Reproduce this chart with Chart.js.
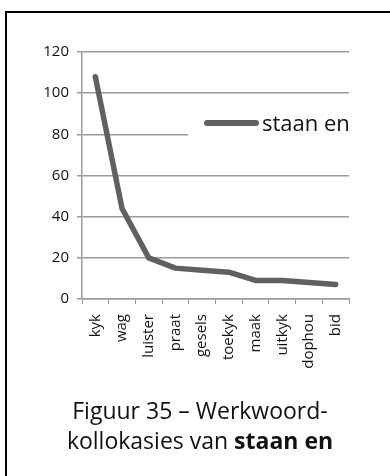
<!DOCTYPE html>
<html lang="af">
<head>
    <meta charset="UTF-8">
    <title>Figuur 35</title>
    <script src="https://cdn.jsdelivr.net/npm/chart.js"></script>
    <style>
        body {
            margin: 0;
            background: #fff;
            font-family: "Open Sans", sans-serif;
        }

        #wrap {
            position: relative;
            width: 390px;
            height: 476px;
            overflow: hidden;
        }

        #frame {
            position: absolute;
            left: 5px;
            top: 11px;
            width: 400px;
            height: 480px;
            border-left: 2px solid #000;
            border-top: 2px solid #000;
        }

        canvas {
            position: absolute;
            left: 0;
            top: 0;
        }

        #caption {
            position: absolute;
            left: 0;
            width: 400px;
            top: 395px;
            text-align: center;
            font-size: 23px;
            line-height: 30px;
            color: #111;
        }
    </style>
</head>
<body>
    <div id="wrap">
        <div id="frame"></div>
        <canvas id="chart" width="390" height="476"></canvas>
        <div id="caption">Figuur 35 – Werkwoord-<br>kollokasies van <b>staan en</b></div>
    </div>

    <script>
        // werkwoorde en frekwensies
        const verbs = ['kyk', 'wag', 'luister', 'praat', 'gesels', 'toekyk', 'maak', 'uitkyk', 'dophou', 'bid'];
        const counts = [108, 44, 20, 15, 14, 13, 9, 9, 8, 7];
        const seriesName = 'staan en';
        const yTicks = [0, 20, 40, 60, 80, 100, 120];

        const lineGray = '#606060';
        const gridGray = '#9a9a9a';
        const textCol = '#111';

        // legende binne die plot, met wit agtergrond soos in Excel
        const legendBox = {
            id: 'legendBox',
            afterDraw(chart) {
                const ctx = chart.ctx;
                const ds = chart.data.datasets[0];
                ctx.save();
                ctx.fillStyle = '#fff';
                ctx.fillRect(188, 106, 202, 34);
                ctx.strokeStyle = ds.borderColor;
                ctx.lineWidth = 6;
                ctx.lineCap = 'round';
                ctx.beginPath();
                ctx.moveTo(207, 123);
                ctx.lineTo(256, 123);
                ctx.stroke();
                ctx.fillStyle = textCol;
                ctx.font = '22px "Open Sans"';
                ctx.textBaseline = 'alphabetic';
                ctx.fillText(ds.label, 262, 131);
                ctx.restore();
            }
        };

        new Chart(document.getElementById('chart'), {
            type: 'line',
            data: {
                labels: verbs,
                datasets: [{
                    label: seriesName,
                    data: counts,
                    borderColor: lineGray,
                    borderWidth: 5.5,
                    borderJoinStyle: 'round',
                    borderCapStyle: 'round',
                    pointRadius: 0,
                    tension: 0,
                    fill: false
                }]
            },
            options: {
                responsive: false,
                animation: false,
                layout: { padding: { left: 20, top: 52, right: 41, bottom: 97 } },
                plugins: {
                    legend: { display: false },
                    tooltip: { enabled: false }
                },
                scales: {
                    x: {
                        offset: true,
                        grid: {
                            offset: true,
                            drawOnChartArea: false,
                            color: gridGray,
                            tickLength: 5
                        },
                        border: { color: gridGray, width: 1.5 },
                        ticks: {
                            minRotation: 90,
                            maxRotation: 90,
                            padding: 10,
                            color: textCol,
                            font: { family: 'Open Sans', size: 15 }
                        },
                        afterFit(s) { s.height = 80; }
                    },
                    y: {
                        min: 0,
                        max: 120,
                        afterBuildTicks(s) { s.ticks = yTicks.map(v => ({ value: v })); },
                        grid: { color: gridGray, lineWidth: 1.5, tickLength: 5 },
                        border: { color: gridGray, width: 1.5 },
                        ticks: {
                            padding: 8,
                            color: textCol,
                            font: { family: 'Open Sans', size: 15 }
                        },
                        afterFit(s) { s.width = 62; }
                    }
                }
            },
            plugins: [legendBox]
        });
    </script>
</body>
</html>
